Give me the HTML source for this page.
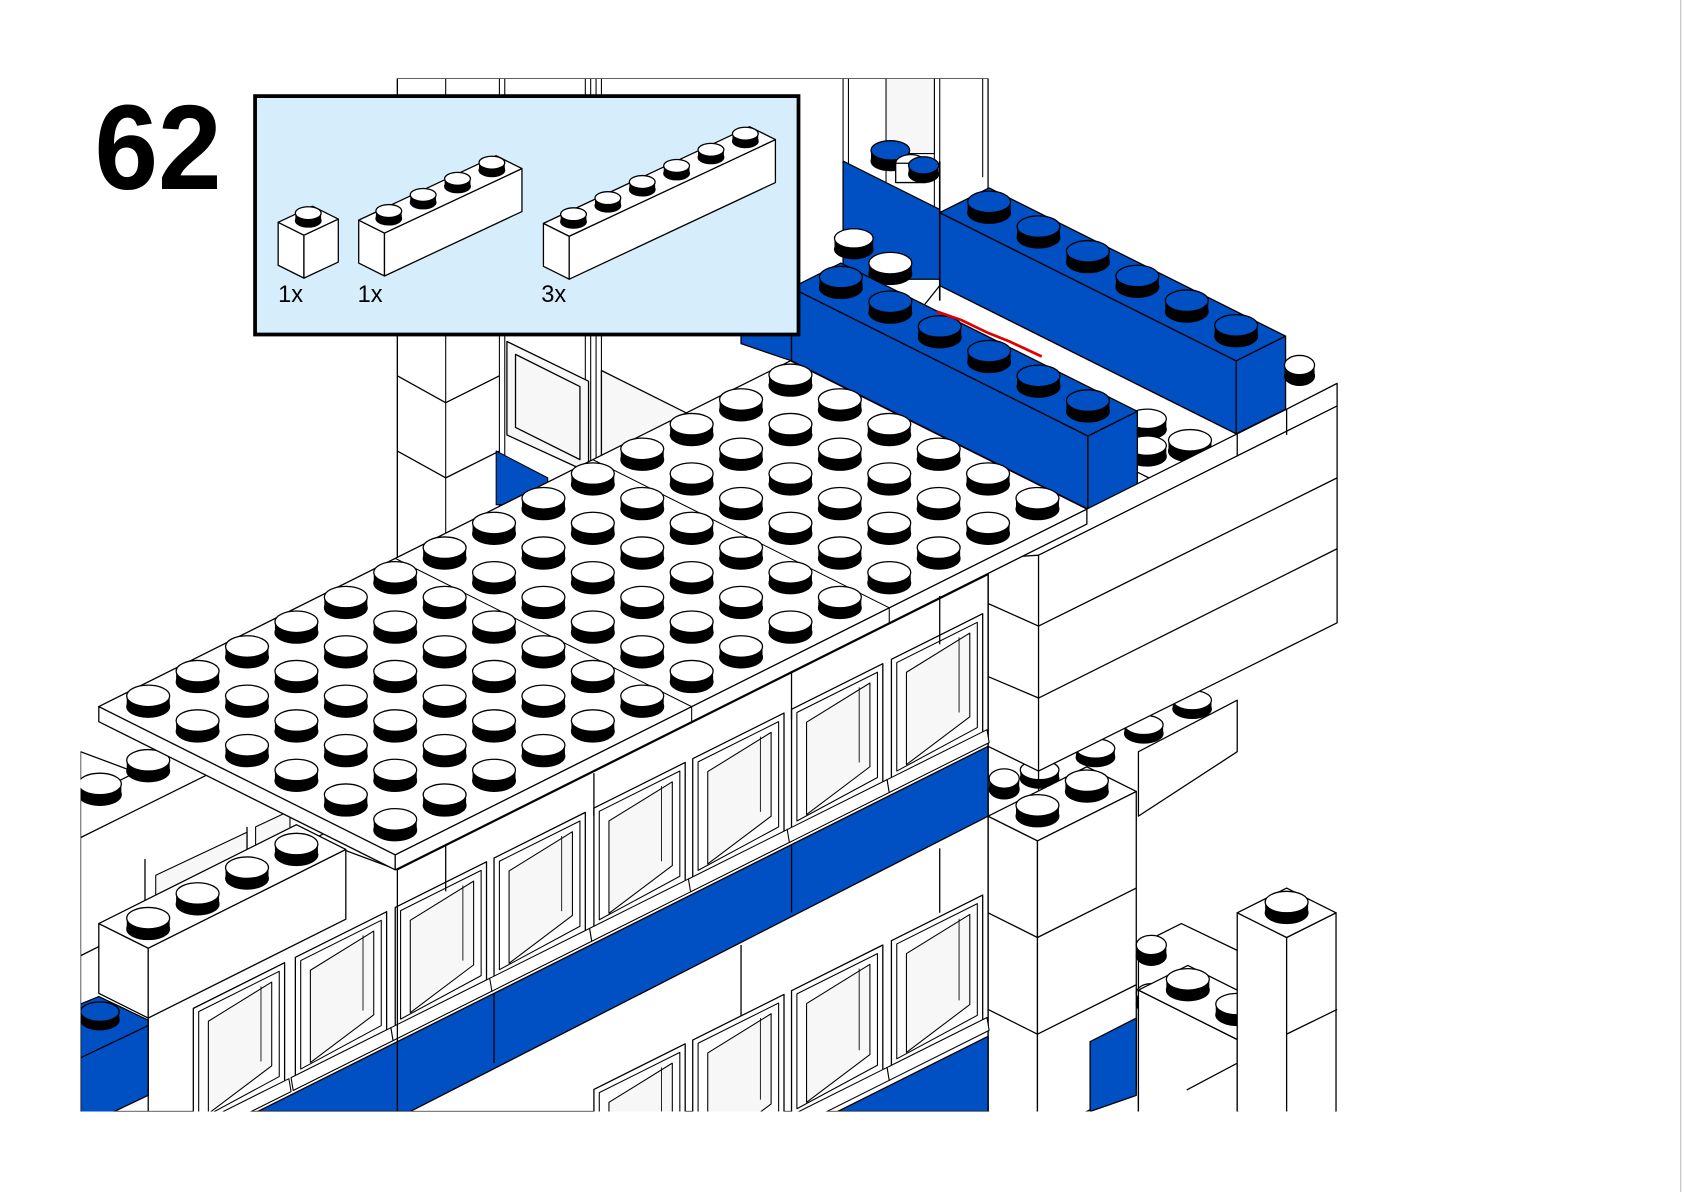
<!DOCTYPE html>
<html><head><meta charset="utf-8">
<style>
html,body{margin:0;padding:0;background:#fff;}
svg{display:block;}
</style></head>
<body>
<svg id="s" width="1684" height="1192" viewBox="0 0 1568 1110" preserveAspectRatio="none" xmlns="http://www.w3.org/2000/svg">
<defs><clipPath id="cp"><rect x="75" y="73" width="1171" height="962"/></clipPath></defs>
<rect x="0" y="0" width="1568" height="1110" fill="#fff"/>
<line x1="1565" y1="0" x2="1565" y2="1110" stroke="#bbb" stroke-width="1"/>
<g id="main" clip-path="url(#cp)" stroke="#000" stroke-width="1.2" stroke-linejoin="round"></g>
<g id="top"></g>
</svg>
<script>
var NS="http://www.w3.org/2000/svg";
var BLUE="#0050c4";
function el(p,tag,a){var e=document.createElementNS(NS,tag);for(var k in a)e.setAttribute(k,a[k]);p.appendChild(e);return e;}
function pts(a){return a.map(function(p){return p[0].toFixed(1)+","+p[1].toFixed(1)}).join(" ");}
function poly(g,a,fill,sw){return el(g,"polygon",{points:pts(a),fill:fill||"#fff",stroke:"#000","stroke-width":sw||1.2});}
function line(g,a,b,sw,col){el(g,"line",{x1:a[0],y1:a[1],x2:b[0],y2:b[1],stroke:col||"#000","stroke-width":sw||1.2});}
function add(a,b,k){k=k==null?1:k;return [a[0]+b[0]*k,a[1]+b[1]*k];}
function stud(g,c,rx,ry,h,top){
  el(g,"rect",{x:c[0]-rx,y:c[1]-h,width:2*rx,height:h,fill:"#000",stroke:"none"});
  el(g,"ellipse",{cx:c[0],cy:c[1],rx:rx,ry:ry,fill:"#000",stroke:"#000","stroke-width":1});
  el(g,"ellipse",{cx:c[0],cy:c[1]-h,rx:rx,ry:ry,fill:top||"#fff",stroke:"#000","stroke-width":1.2});
}
function brick(g,P0,U,V,nu,nv,h,fill,st){
  var P1=add(P0,U,nu),P3=add(P0,V,nv),P2=add(P1,V,nv);
  var D=[0,h];
  poly(g,[P0,P3,add(P3,D),add(P0,D)],fill);
  poly(g,[P3,P2,add(P2,D),add(P3,D)],fill);
  poly(g,[P0,P1,P2,P3],fill);
  if(st){for(var i=0;i<nu;i++)for(var j=0;j<nv;j++){
    var c=add(add(P0,U,i+.5),V,j+.5);stud(g,c,st[0],st[1],st[2],st[3]);}}
  return {P0:P0,P1:P1,P2:P2,P3:P3};
}
var g=document.getElementById("main");
var U=[46,-23],V=[46,23];

/* ---- background building (top) ---- */
poly(g,[[370,73],[920,73],[920,520],[370,520]],"#fff",0);
[370,415,465,470,545,550,555,560,785,790,825,870,875,915].forEach(function(x){line(g,[x,73],[x,x<600?520:(x>900?165:250)],1);});
el(g,"rect",{x:825,y:73,width:45,height:70,fill:"#f7f7f7",stroke:"#000","stroke-width":1});
line(g,[370,350],[415,375]);line(g,[415,375],[465,350]);
line(g,[370,420],[415,445]);line(g,[415,445],[465,420]);
poly(g,[[472,318],[548,355],[548,440],[472,405]],"#f7f7f7");
poly(g,[[480,330],[540,360],[540,428],[480,398]],"#f7f7f7");
poly(g,[[560,345],[640,385],[640,430],[560,430]],"#f7f7f7");
poly(g,[[462,420],[510,445],[510,470],[462,470]],BLUE,1);
/* top right blue blocks */
poly(g,[[785,150],[875,195],[875,260],[785,260]],BLUE);
stud(g,[829,150],18,9,10,BLUE);
el(g,"ellipse",{cx:848,cy:152,rx:14,ry:8,fill:"#fff",stroke:"#000"});
el(g,"rect",{x:834,y:152,width:28,height:18,fill:"#fff",stroke:"#000"});
stud(g,[860,162],14,8,8,BLUE);
/* brick A (upper, back) */
brick(g,[875,198],U,V,1,6,68,BLUE,[20,10,10,BLUE]);
/* white strip between bricks */
poly(g,[[875,266],[1151,404],[1198,381],[1198,420],[1110,465],[828,325]],"#fff");
stud(g,[795,232],18,9,10);stud(g,[829,255],20,10,10);
stud(g,[1068,400],18,9,10);stud(g,[1068,425],18,9,10);stud(g,[1108,420],20,10,10);
stud(g,[1210,350],14,9,10);
line(g,[875,280],[875,150],1.5);
/* brick B */
poly(g,[[690,300],[737,268],[737,336],[690,320]],BLUE);
brick(g,[737,268],U,V,1,6,68,BLUE,[20,10,10,BLUE]);
/* red highlight */
el(g,"polyline",{points:"872,290 895,298 920,310 940,318 970,332",fill:"none",stroke:"#e00000","stroke-width":2.5});
/* brick below wall (drawn before wall) */
poly(g,[[1060,700],[1152,652],[1152,700],[1060,760]],"#fff");
stud(g,[1110,660],18,9,8);stud(g,[1065,683],18,9,8);stud(g,[1020,705],18,9,8);stud(g,[968,725],18,9,8);
/* right wall */
poly(g,[[1012,474],[1152,404],[1198,381],[1245,357],[1245,580],[967,718],[920,695],[920,520]],"#fff");
line(g,[1152,404],[1152,425]);line(g,[1198,381],[1198,405]);
line(g,[920,520],[967,517]);line(g,[967,517],[1245,378]);
line(g,[920,562],[967,583]);line(g,[967,583],[1245,445]);
line(g,[920,630],[967,650]);line(g,[967,650],[1245,511]);
line(g,[967,517],[967,1035]);line(g,[920,520],[920,1035]);
/* column */
brick(g,[920,760],U,V,2,1,275,"#fff",[20,10,10]);
line(g,[920,850],[966,873]);line(g,[966,873],[1058,827]);
line(g,[920,940],[966,963]);line(g,[966,963],[1058,917]);
poly(g,[[1015,970],[1058,948],[1058,1020],[1015,1035]],BLUE);
stud(g,[935,735],14,9,10);
/* bottom right bricks */
poly(g,[[1060,880],[1100,860],[1152,885],[1152,1035],[1060,1035]],"#fff");
stud(g,[1072,890],14,9,10);stud(g,[1072,935],14,9,10);
brick(g,[1060,922],U,V,1,2,120,"#fff",[20,10,10]);
brick(g,[1152,850],U,V,1,1,185,"#fff",[20,10,10]);
line(g,[1198,963],[1245,940]);line(g,[1105,1015],[1152,990]);

/* ---- left facade ---- */
poly(g,[[75,700],[370,810],[920,535],[920,1035],[75,1035]],"#fff",0);
poly(g,[[75,745],[185,690],[330,762],[75,890]],"#fff");
stud(g,[93,740],20,10,10);stud(g,[138,718],20,10,10);
line(g,[75,780],[200,718]);
poly(g,[[145,815],[230,775],[230,795],[145,835]],"#f7f7f7",1);
poly(g,[[238,770],[270,755],[270,775],[238,790]],"#f7f7f7",1);
line(g,[135,800],[135,845]);line(g,[230,770],[230,800]);
poly(g,[[92,860],[138,883],[138,948],[92,925]],"#fff");
poly(g,[[138,883],[322,791],[322,856],[138,948]],"#fff");
poly(g,[[92,860],[276,768],[322,791],[138,883]],"#fff");
[[138,855],[184,832],[230,808],[276,786]].forEach(function(c){stud(g,[c[0],c[1]+10],20,10,10);});
poly(g,[[75,935],[92,928],[138,950],[138,1020],[75,1050]],BLUE);
stud(g,[93,950],18,9,8,BLUE);
line(g,[75,985],[138,955]);
line(g,[138,948],[138,1035]);
/* blue band 1 */
poly(g,[[240,1035],[920,695],[920,760],[382,1035]],BLUE);
line(g,[460,925],[460,990]);line(g,[737,787],[737,850]);
line(g,[690,880],[690,1035]);line(g,[875,790],[875,850]);
/* blue band 2 */
poly(g,[[780,1035],[920,965],[920,1035]],BLUE);
function win(x,yb,w,h){
  var tl=[x,yb-h],tr=[x+w,yb-h-w/2],br=[x+w,yb-w/2],bl=[x,yb];
  poly(g,[tl,tr,br,bl],"#fff");
  poly(g,[[x+5,yb-h+3],[x+w-5,yb-h-w/2+8],[x+w-5,yb-w/2-6],[x+5,yb-8]],"#fff",1);
  poly(g,[[x+14,yb-h+12],[x+w-12,yb-h-w/2+18],[x+w-12,yb-w/2-16],[x+14,yb-14]],"#f7f7f7",1);
  line(g,[x+w-22,yb-h-w/2+22],[x+w-22,yb-w/2-20],0.8);
  poly(g,[[x-4,yb],[x+w+4,yb-w/2-4],[x+w+6,yb-w/2+8],[x-2,yb+12]],"#fff",1);
}
[180,275,368,460,553,645,737,830].forEach(function(x){var yb=925-0.5*(x-460)-14;win(x,yb,85,112);});
[553,645,737,830].forEach(function(x){var yb=965+0.5*(920-x)-16;win(x,yb,85,118);});
line(g,[370,810],[370,1035]);

/* ---- plate ---- */
var P0=[92,658];
brick(g,P0,U,V,14,6,14,"#fff",null);
line(g,add(P0,U,6),add(add(P0,U,6),V,6),1);
line(g,add(P0,U,10),add(add(P0,U,10),V,6),1);
line(g,add(add(P0,U,6),V,6),add(add(add(P0,U,6),V,6),[0,14]),1);
line(g,add(add(P0,U,10),V,6),add(add(add(P0,U,10),V,6),[0,14]),1);
for(var i=0;i<14;i++)for(var j=0;j<6;j++){
  var c=add(add(P0,U,i+.5),V,j+.5);
  stud(g,c,20,10,10);
}
line(g,[415,787],[415,830]);line(g,[553,720],[553,760]);line(g,[737,625],[737,670]);line(g,[875,555],[875,600]);

/* ---- overlay ---- */
var t=document.getElementById("top");
var tx=el(t,"text",{x:88,y:176,"font-family":"Liberation Sans, Arial, sans-serif","font-weight":"bold","font-size":112,fill:"#000",transform:"translate(88,0) scale(0.95,1) translate(-88,0)"});
tx.textContent="62";
el(t,"rect",{x:237.5,y:89.5,width:506,height:222,fill:"#d6edfc",stroke:"#000","stroke-width":3.5});
var tg=el(t,"g",{"stroke-linejoin":"round"});
var u2=[32,-15],v2=[24,12];
function sbrick(P,n){var save=g;g=tg;brick(g,P,u2,v2,n,1,40,"#fff",[12,6,7]);g=save;}
sbrick([259,207],1);sbrick([334,205],4);sbrick([506,208],6);
[["1x",259],["1x",333],["3x",504]].forEach(function(a){var e=el(t,"text",{x:a[1],y:281,"font-family":"Liberation Sans, Arial, sans-serif","font-size":22,fill:"#000"});e.textContent=a[0];});
</script>
</body></html>
